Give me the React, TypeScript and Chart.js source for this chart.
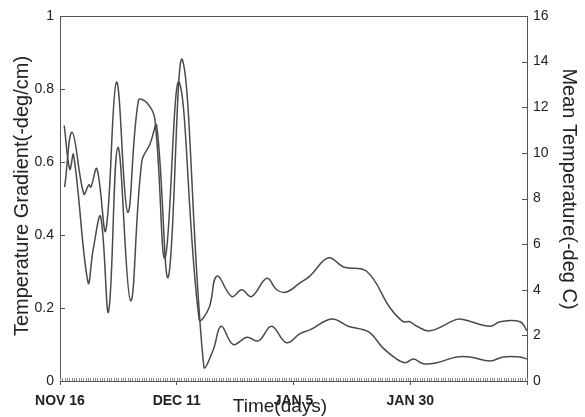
import React, { useEffect, useRef } from "react";
import { Chart, registerables } from "chart.js";

Chart.register(...registerables);

// Days since NOV 16
const gradientDays = [0.9, 2.1, 2.9, 6.0, 7.1, 8.7, 10.4, 12.4, 15.1, 17.5, 19.3, 20.7, 23.2, 26.2, 30.8, 32.8, 34.5, 37.1, 40.0, 42.5, 45.3, 48.5, 51.4, 53.5, 58.2, 61.7, 66.0, 69.2, 72.1, 73.9, 75.7, 77.8, 80.7, 84.9, 87.8, 92.1, 94.9, 98.5, 100];
// Temperature gradient (-deg/cm), left axis
const gradientValues = [0.70, 0.58, 0.62, 0.27, 0.36, 0.45, 0.19, 0.64, 0.22, 0.60, 0.65, 0.70, 0.285, 0.88, 0.04, 0.085, 0.15, 0.10, 0.12, 0.11, 0.15, 0.105, 0.13, 0.14, 0.17, 0.15, 0.135, 0.09, 0.06, 0.05, 0.06, 0.047, 0.05, 0.066, 0.066, 0.055, 0.066, 0.066, 0.06];

const meanTempDays = [1.0, 2.6, 5.1, 6.2, 6.6, 7.9, 9.8, 12.1, 14.5, 16.8, 18.6, 20.3, 22.5, 25.5, 29.8, 31.9, 33.6, 36.8, 38.9, 41.0, 44.3, 46.4, 48.5, 51.4, 53.5, 57.5, 60.7, 65.7, 70.7, 73.5, 74.9, 76.4, 79.2, 84.9, 86.3, 92.1, 94.2, 98.5, 100];
// Mean temperature (-deg C), right axis
const meanTempValues = [8.5, 10.9, 8.2, 8.6, 8.5, 9.3, 6.6, 13.1, 7.4, 12.3, 12.2, 11.5, 5.4, 13.1, 2.7, 3.2, 4.6, 3.7, 4.0, 3.7, 4.5, 4.0, 3.9, 4.3, 4.6, 5.4, 5.0, 4.8, 3.2, 2.6, 2.6, 2.4, 2.2, 2.7, 2.7, 2.4, 2.6, 2.6, 2.2];

const xTickValues = [0, 25, 50, 75];
const xTickLabels = ["NOV 16", "DEC 11", "JAN 5", "JAN 30"];
const xMin = 0;
const xMax = 100;
const xMinorStep = 0.5;

const leftTitle = "Temperature Gradient(-deg/cm)";
const rightTitle = "Mean Temperature(-deg C)";
const bottomTitle = "Time(days)";

const FONT = "'Liberation Sans', Arial, Helvetica, sans-serif";
const LINE = "#4a4a4a";
const AXIS = "#555555";
const TEXT = "#222222";

const decorPlugin = {
  id: "decor",
  beforeDraw(chart: any) {
    const ctx = chart.ctx;
    ctx.save();
    ctx.fillStyle = "#ffffff";
    ctx.fillRect(0, 0, chart.width, chart.height);
    ctx.restore();
  },
  afterDraw(chart: any) {
    const ctx = chart.ctx;
    const a = chart.chartArea;
    const xs = chart.scales.x;
    const yl = chart.scales.y;
    const yr = chart.scales.y2;
    ctx.save();
    ctx.strokeStyle = AXIS;
    ctx.lineWidth = 1;
    // top frame
    ctx.beginPath();
    ctx.moveTo(a.left, Math.round(a.top) + 0.5);
    ctx.lineTo(a.right, Math.round(a.top) + 0.5);
    ctx.stroke();
    // inward ticks on y axes
    ctx.beginPath();
    yl.ticks.forEach((t: any) => {
      const py = Math.round(yl.getPixelForValue(t.value)) + 0.5;
      ctx.moveTo(a.left, py);
      ctx.lineTo(a.left + 5, py);
    });
    yr.ticks.forEach((t: any) => {
      const py = Math.round(yr.getPixelForValue(t.value)) + 0.5;
      ctx.moveTo(a.right - 5, py);
      ctx.lineTo(a.right, py);
    });
    ctx.stroke();
    // minor ticks on time axis
    ctx.strokeStyle = "#8a8a8a";
    ctx.beginPath();
    for (let v = xMin; v <= xMax + 1e-9; v += xMinorStep) {
      const px = Math.round(xs.getPixelForValue(v)) + 0.5;
      ctx.moveTo(px, a.bottom - 3);
      ctx.lineTo(px, a.bottom);
    }
    ctx.stroke();

    // axis titles
    ctx.fillStyle = TEXT;
    ctx.font = `20px ${FONT}`;
    ctx.textAlign = "center";
    ctx.textBaseline = "middle";
    ctx.save();
    ctx.translate(22, 196);
    ctx.rotate(-Math.PI / 2);
    ctx.fillText(leftTitle, 0, 0);
    ctx.restore();
    ctx.save();
    ctx.translate(569, 189);
    ctx.rotate(Math.PI / 2);
    ctx.fillText(rightTitle, 0, 0);
    ctx.restore();
    ctx.font = `19px ${FONT}`;
    ctx.fillText(bottomTitle, 280, 407);
    ctx.restore();
  },
};

export default function App() {
  const ref = useRef<HTMLCanvasElement | null>(null);

  useEffect(() => {
    if (!ref.current) return;
    const chart = new Chart(ref.current, {
      type: "line",
      data: {
        datasets: [
          {
            label: "Temperature Gradient",
            data: gradientDays.map((d, i) => ({ x: d, y: gradientValues[i] })),
            yAxisID: "y",
            borderColor: LINE,
            borderWidth: 1.5,
            pointRadius: 0,
            fill: false,
            tension: 0.4,
          },
          {
            label: "Mean Temperature",
            data: meanTempDays.map((d, i) => ({ x: d, y: meanTempValues[i] })),
            yAxisID: "y2",
            borderColor: LINE,
            borderWidth: 1.5,
            pointRadius: 0,
            fill: false,
            tension: 0.4,
          },
        ],
      },
      options: {
        responsive: false,
        animation: false,
        layout: { padding: { top: 16, left: 0, right: 0, bottom: 0 } },
        plugins: {
          legend: { display: false },
          tooltip: { enabled: false },
          title: { display: false },
        },
        scales: {
          x: {
            type: "linear",
            position: "bottom",
            min: xMin,
            max: xMax,
            afterFit: (s: any) => {
              s.height = 36;
            },
            ticks: {
              stepSize: 25,
              autoSkip: false,
              maxRotation: 0,
              padding: 8,
              color: TEXT,
              font: { family: FONT, size: 14, weight: "bold" },
              callback: (v: any) => {
                const i = xTickValues.indexOf(Number(v));
                return i >= 0 ? xTickLabels[i] : "";
              },
            },
            grid: { drawOnChartArea: false, drawTicks: true, tickLength: 4, color: AXIS },
            border: { display: true, color: AXIS, width: 1 },
          },
          y: {
            position: "left",
            min: 0,
            max: 1,
            afterFit: (s: any) => {
              s.width = 60;
            },
            ticks: {
              stepSize: 0.2,
              padding: 6,
              color: TEXT,
              font: { family: FONT, size: 14 },
              callback: (v: any) => String(parseFloat(Number(v).toFixed(1))),
            },
            grid: { drawOnChartArea: false, drawTicks: false },
            border: { display: true, color: AXIS, width: 1 },
          },
          y2: {
            position: "right",
            min: 0,
            max: 16,
            afterFit: (s: any) => {
              s.width = 58;
            },
            ticks: {
              stepSize: 2,
              padding: 6,
              color: TEXT,
              font: { family: FONT, size: 14 },
            },
            grid: { drawOnChartArea: false, drawTicks: false },
            border: { display: true, color: AXIS, width: 1 },
          },
        },
      } as any,
      plugins: [decorPlugin],
    });
    return () => chart.destroy();
  }, []);

  return (
    <div style={{ position: "fixed", left: 0, top: 0, width: 585, height: 417, background: "#fff" }}>
      <canvas ref={ref} width={585} height={417} style={{ display: "block" }} />
    </div>
  );
}
